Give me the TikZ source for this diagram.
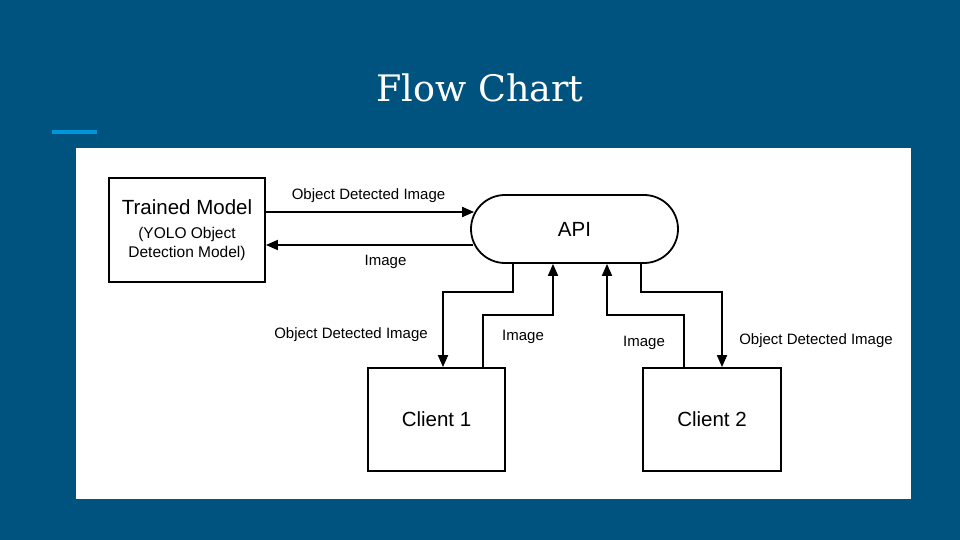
\documentclass[tikz,border=0pt]{standalone}
\usepackage{fontspec}
\setmainfont{Liberation Sans}
\newfontfamily\slabfont{DejaVu Serif}
\usetikzlibrary{arrows.meta,shapes.misc}
\definecolor{slideblue}{RGB}{0,82,127}
\definecolor{barblue}{RGB}{0,150,221}
\tikzstyle{block} = [rectangle, draw, line width=1.8pt, inner sep=0pt,
    align=center, font=\fontsize{20.5}{24}\selectfont]
\tikzstyle{pill} = [rounded rectangle, draw, line width=1.8pt, inner sep=0pt,
    minimum width=207pt, minimum height=68pt, font=\fontsize{20.5}{24}\selectfont]
\tikzstyle{lbl} = [inner sep=0pt, font=\fontsize{15}{18}\selectfont]

\begin{document}
\begin{tikzpicture}[x=1pt, y=-1pt, >={Triangle[length=12pt,width=10pt]}, line width=1.8pt]

    % Slide
    \fill[slideblue] (0,0) rectangle (960,540);
    \useasboundingbox (0,0) rectangle (960,540);
    \node [text=white, font=\slabfont\fontsize{36.5}{40}\selectfont] (title) at (480,88) {Flow Chart};
    \fill[barblue] (52,130) rectangle (97,134);
    \fill[white] (76,148) rectangle (911,499);

    % Nodes
    \node [block, minimum width=156pt, minimum height=104pt, font=\fontsize{15.5}{18.5}\selectfont] (model) at (187,230)
        {{\fontsize{20.5}{21}\selectfont Trained Model}\\[6pt](YOLO Object\\Detection Model)};
    \node [pill] (api) at (574.5,229) {API};
    \node [block, minimum width=137pt, minimum height=103pt] (c1) at (436.5,419.5) {Client 1};
    \node [block, minimum width=138pt, minimum height=103pt] (c2) at (712,419.5) {Client 2};

    % Labels
    \node [lbl] (odi1) at (368.5,195.5) {Object Detected Image};
    \node [lbl] (img1) at (385.5,261.5) {Image};
    \node [lbl] (odi2) at (351,334.5) {Object Detected Image};
    \node [lbl] (img2) at (523,336.5) {Image};
    \node [lbl] (img3) at (644,342.5) {Image};
    \node [lbl] (odi3) at (816,340.5) {Object Detected Image};

    % Connections
    \draw [->] ([yshift=18pt]model.east) -- ([xshift=4pt,yshift=17pt]api.west);
    \draw [->] ([xshift=3pt,yshift=-16pt]api.west) -- ([yshift=-15pt]model.east);
    \draw [->] ([xshift=-61.5pt]api.south) -- ++(0,28) -| ([xshift=6.5pt]c1.north);
    \draw [->] ([xshift=46.5pt]c1.north) -- ++(0,-52) -| ([xshift=-21.5pt]api.south);
    \draw [->] ([xshift=-28pt]c2.north) -- ++(0,-52) -| ([xshift=32.5pt]api.south);
    \draw [->] ([xshift=66.5pt]api.south) -- ++(0,28) -| ([xshift=10pt]c2.north);

\end{tikzpicture}
\end{document}
